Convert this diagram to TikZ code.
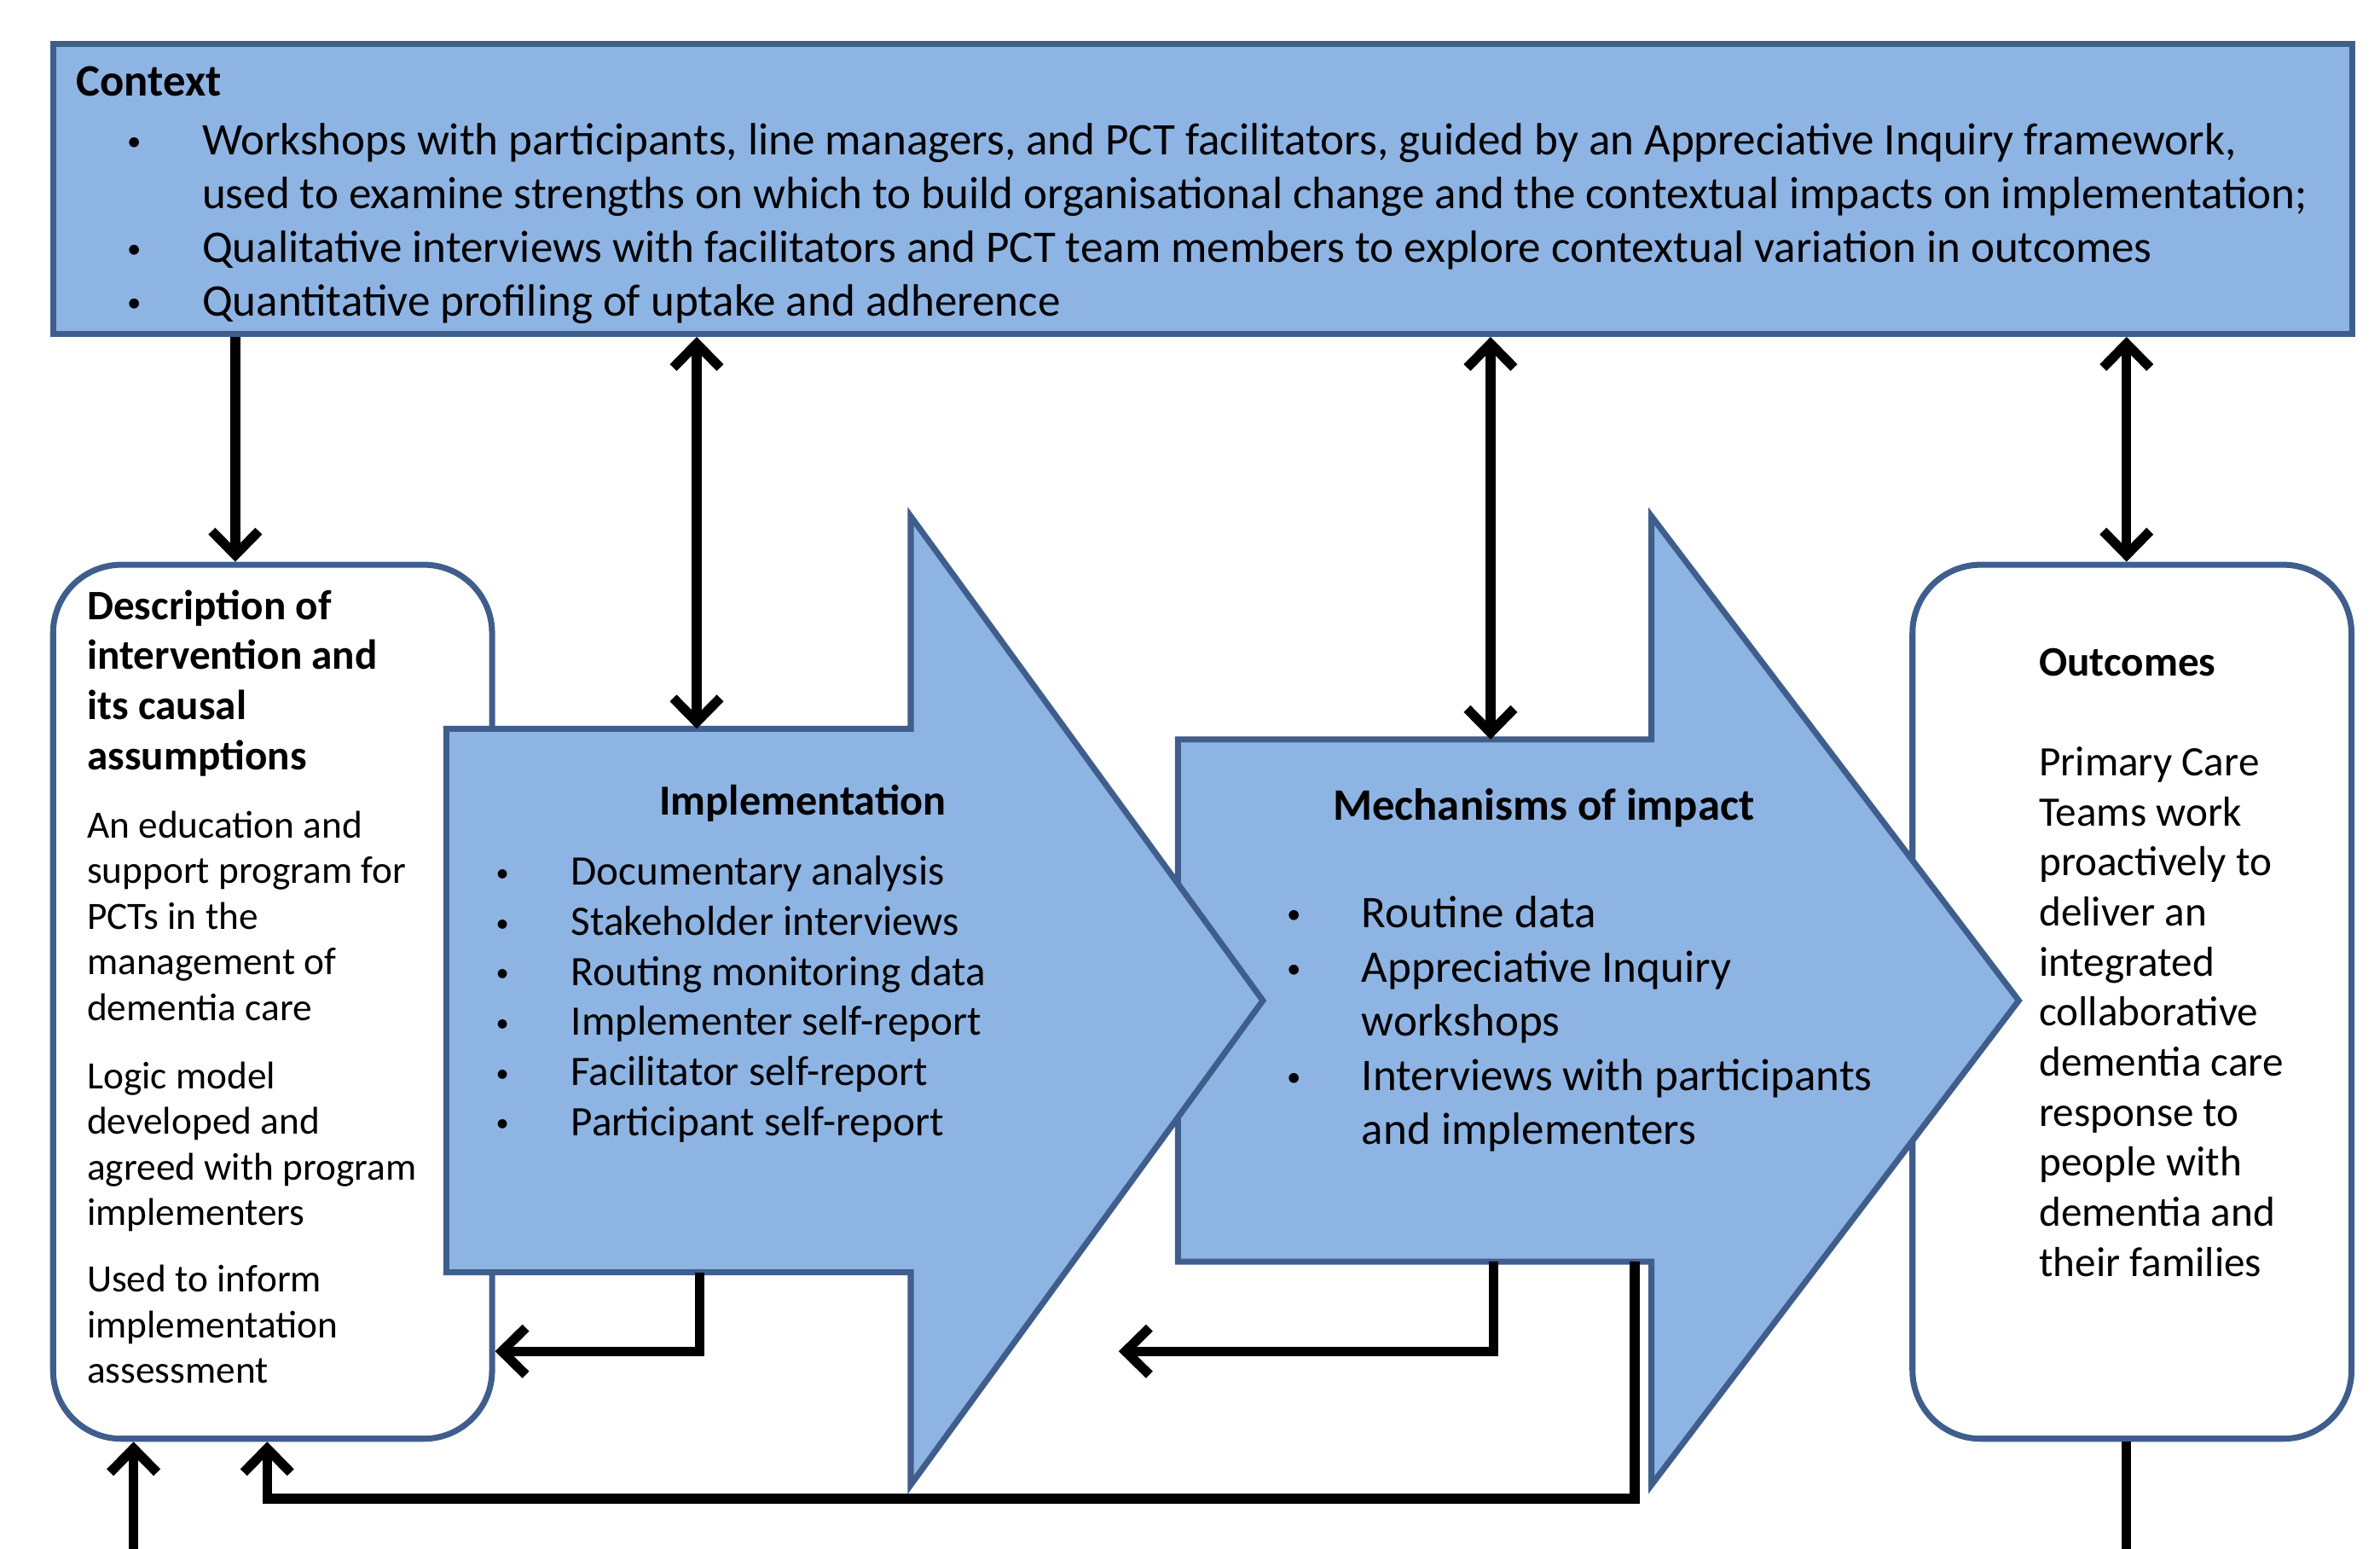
\documentclass[tikz,border=0pt]{standalone}
\usepackage{graphicx}
\usepackage{fontspec}
\setmainfont{Carlito}
\usetikzlibrary{arrows.meta,calc}

\definecolor{boxfill}{HTML}{8EB4E3}
\definecolor{boxline}{HTML}{3F5E8C}

\newcommand{\bul}{\makebox[0.94cm][l]{\hspace{0.06cm}\raisebox{0.09em}{\scalebox{0.62}{\textbullet}}}}
\newcommand{\ind}{\hspace*{0.94cm}}
\newcommand{\rows}[1]{\begin{tabular}[t]{@{}l@{}}#1\end{tabular}}

\begin{document}
\begin{tikzpicture}[x=0.0178cm, y=-0.0178cm,
    panel/.style={draw=boxline, line width=2pt, fill=boxfill},
    card/.style={draw=boxline, line width=2pt, fill=white, rounded corners=0.8cm,
        anchor=north west, minimum width=5.15cm, minimum height=10.25cm},
    txt/.style={inner sep=0pt, anchor=base west},
    link/.style={line width=3.2pt, -{Straight Barb[length=2.8mm,width=5.5mm]}},
    duo/.style={line width=3.2pt, {Straight Barb[length=2.8mm,width=5.5mm]}-{Straight Barb[length=2.8mm,width=5.5mm]}},
    wire/.style={line width=3.2pt}]
    \useasboundingbox (0,0) rectangle (1568,1020);

    % boxes at both ends
    \node[panel, anchor=north west, minimum width=26.97cm, minimum height=3.4cm] (context) at (33,27) {};
    \node[card] (descr) at (33,370) {};
    \node[card] (outcome) at (1258,370) {};

    % the two block arrows
    \draw[panel] (776,487) -- (1088,487) -- (1088,340) -- (1330,659) -- (1088,978) -- (1088,831) -- (776,831) -- cycle;
    \draw[panel] (294,480) -- (600,480) -- (600,340) -- (832,659) -- (600,978) -- (600,838) -- (294,838) -- cycle;

    % Context
    \node[txt, font=\bfseries\fontsize{15}{18}\selectfont] (ctx-title) at (50,63) {Context};
    \node[txt, font=\fontsize{15.1}{17.9}\selectfont] (ctx-list) at (80,102) {\rows{%
        \bul Workshops with participants, line managers, and PCT facilitators, guided by an Appreciative Inquiry framework,\\
        \ind used to examine strengths on which to build organisational change and the contextual impacts on implementation;\\
        \bul Qualitative interviews with facilitators and PCT team members to explore contextual variation in outcomes\\
        \bul Quantitative profiling of uptake and adherence}};

    % Description
    \node[txt, font=\bfseries\fontsize{14}{16.7}\selectfont] (descr-title) at (57,408) {\rows{%
        Description of\\ intervention and\\ its causal\\ assumptions}};
    \node[txt, font=\fontsize{12.9}{15.2}\selectfont] (descr-a) at (57,552) {\rows{%
        An education and\\ support program for\\ PCTs in the\\ management of\\ dementia care}};
    \node[txt, font=\fontsize{12.9}{15.2}\selectfont] (descr-b) at (57,717) {\rows{%
        Logic model\\ developed and\\ agreed with program\\ implementers}};
    \node[txt, font=\fontsize{12.9}{15.2}\selectfont] (descr-c) at (57,851) {\rows{%
        Used to inform\\ implementation\\ assessment}};

    % Implementation
    \node[font=\bfseries\fontsize{14.3}{16}\selectfont] (impl-title) at (529,529) {Implementation};
    \node[txt, font=\fontsize{14}{16.7}\selectfont] (impl-list) at (323,583) {\rows{%
        \bul Documentary analysis\\ \bul Stakeholder interviews\\ \bul Routing monitoring data\\
        \bul Implementer self-report\\ \bul Facilitator self-report\\ \bul Participant self-report}};

    % Mechanisms of impact
    \node[font=\bfseries\fontsize{15}{16}\selectfont] (mech-title) at (1017,532) {Mechanisms of impact};
    \node[txt, font=\fontsize{15.1}{18.1}\selectfont] (mech-list) at (844,611) {\rows{%
        \bul Routine data\\ \bul Appreciative Inquiry\\ \ind workshops\\
        \bul Interviews with participants\\ \ind and implementers}};

    % Outcomes
    \node[txt, font=\bfseries\fontsize{14}{16}\selectfont] (out-title) at (1343,445) {Outcomes};
    \node[txt, font=\fontsize{14}{16.7}\selectfont] (out-text) at (1343,511) {\rows{%
        Primary Care\\ Teams work\\ proactively to\\ deliver an\\ integrated\\ collaborative\\
        dementia care\\ response to\\ people with\\ dementia and\\ their families}};

    % connector ends
    \coordinate (d-in) at ($(descr.north west)+(122,0)$);
    \coordinate (d-out) at ($(descr.south west)+(143,0)$);
    \coordinate (impl-n) at (459,480);
    \coordinate (impl-s) at (461,838);
    \coordinate (mech-n) at (982,487);
    \coordinate (mech-s) at (984,831);
    \coordinate (mech-s2) at (1077,831);
    \coordinate (o-in) at ($(outcome.north west)+(143,0)$);
    \coordinate (fb-a) at (461,890);
    \coordinate (fb-b) at (984,890);
    \coordinate (fb-b-end) at (737,890);
    \coordinate (fb-c) at (1077,987);
    \coordinate (foot-l) at (88,1020);
    \coordinate (foot-r) at (1401,1020);

    % Sticks from the context box
    \draw[link] (context.south -| d-in) -- (d-in);
    \draw[duo] (context.south -| impl-n) -- (impl-n);
    \draw[duo] (context.south -| mech-n) -- (mech-n);
    \draw[duo] (context.south -| o-in) -- (o-in);

    % feedback lines
    \draw[link] (impl-s) -- (fb-a) -- (descr.east |- fb-a);
    \draw[link] (mech-s) -- (fb-b) -- (fb-b-end);
    \draw[link] (mech-s2) -- (fb-c) -| (d-out);
    \draw[link] (foot-l) -- (descr.south -| foot-l);
    \draw[wire] (outcome.south -| foot-r) -- (foot-r);
\end{tikzpicture}
\end{document}
